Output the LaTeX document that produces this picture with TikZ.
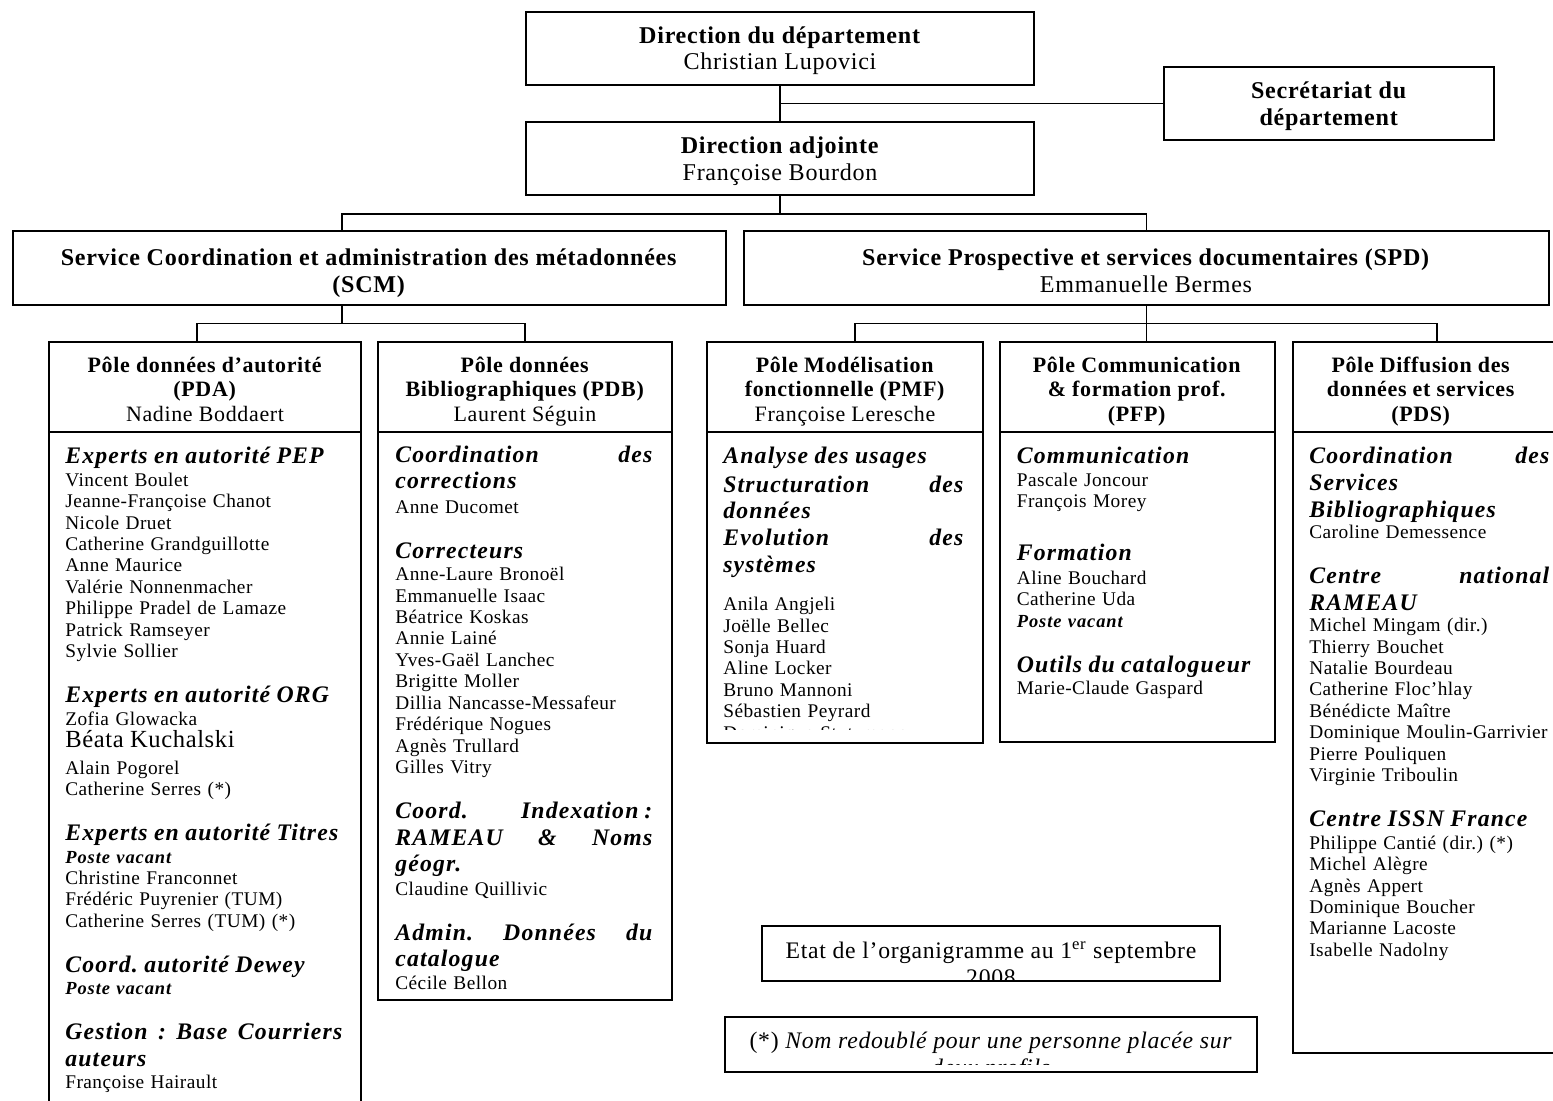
\documentclass[tikz,border=0pt]{standalone}
\usepackage{fontspec}
\setmainfont{Liberation Serif}[LetterSpace=3]
\newfontfamily\hdfont{Liberation Serif}[LetterSpace=5]
\newfontfamily\namefont{Liberation Serif}[LetterSpace=2.4]
\usetikzlibrary{fit}
\newcommand{\hd}[1]{{\hdfont\bfseries\itshape\fontsize{13.5}{12.2}\selectfont\mbox{#1}}}
\newcommand{\hdj}[1]{{\hdfont\bfseries\itshape\fontsize{13.5}{12.2}\selectfont #1}}
\newcommand{\vac}{{\hdfont\bfseries\itshape\fontsize{10.5}{12.2}\selectfont Poste vacant}}
\newcommand{\fst}{\rule{0pt}{14pt}}
\frenchspacing

\begin{document}
\begin{tikzpicture}[x=0.02cm,y=-0.02cm,
  topbox/.style={draw,line width=1.1pt,inner sep=0pt},
  toptext/.style={anchor=north,inner sep=0pt,align=center,font=\fontsize{13.7}{15.3}\selectfont},
  polehead/.style={draw,line width=0.8pt,inner sep=0pt},
  poletext/.style={anchor=north,inner sep=0pt,align=center,font=\fontsize{12.5}{14}\selectfont},
  polebody/.style={draw,line width=1.4pt,inner sep=0pt},
  staff/.style={anchor=north west,inner sep=0pt,align=left,font=\namefont\fontsize{11}{12.2}\selectfont},
  note/.style={draw,line width=1.1pt,inner sep=0pt},
  notetext/.style={anchor=north,inner sep=0pt,align=center,font=\fontsize{13.5}{15.4}\selectfont},
  link/.style={line width=1.1pt}]
\useasboundingbox (0,0) rectangle (1553,1100);

% direction
\node[topbox,fit={(526,12) (1034,85)}] (dir) {};
\node[topbox,fit={(526,122) (1034,195)}] (adj) {};
\node[topbox,fit={(1164,67) (1494,140)}] (sec) {};
\node[toptext] (dirtxt) at (780,18.1) {\fst\textbf{Direction du département}\\Christian Lupovici};
\node[toptext] (adjtxt) at (780,128.4) {\fst\textbf{Direction adjointe}\\Françoise Bourdon};
\node[toptext] (sectxt) at (1329,73.7) {\fst\textbf{Secrétariat du}\\\textbf{département}};

% services
\node[topbox,fit={(13,231) (726,305)}] (scm) {};
\node[topbox,fit={(744,231) (1549,305)}] (spd) {};
\node[toptext] (scmtxt) at (369,240.4) {\fst\textbf{Service Coordination et administration des métadonnées}\\\textbf{(SCM)}};
\node[toptext] (spdtxt) at (1146,240.4) {\fst\textbf{Service Prospective et services documentaires (SPD)}\\Emmanuelle Bermes};

% poles
\node[polehead,fit={(49,342) (361,432)}] (pdah) {};
\node[polehead,fit={(378,342) (672,432)}] (pdbh) {};
\node[polehead,fit={(707,342) (983,432)}] (pmfh) {};
\node[polehead,fit={(1000,342) (1275,432)}] (pfph) {};
\node[polehead,fit={(1293,342) (1566,432)}] (pdsh) {};
\node[poletext] (pdatxt) at (205,347.1) {\fst\textbf{Pôle données d’autorité}\\\textbf{(PDA)}\\Nadine Boddaert};
\node[poletext] (pdbtxt) at (525,347.1) {\fst\textbf{Pôle données}\\\textbf{Bibliographiques (PDB)}\\Laurent Séguin};
\node[poletext] (pmftxt) at (845,347.1) {\fst\textbf{Pôle Modélisation}\\\textbf{fonctionnelle (PMF)}\\Françoise Leresche};
\node[poletext] (pfptxt) at (1137,347.1) {\fst\textbf{Pôle Communication}\\\textbf{\& formation prof.}\\\textbf{(PFP)}};
\node[poletext] (pdstxt) at (1421,347.1) {\fst\textbf{Pôle Diffusion des}\\\textbf{données et services}\\\textbf{(PDS)}};

\node[polebody,fit={(49,432) (361,1130)}] (pdab) {};
\node[polebody,fit={(378,432) (672,1000)}] (pdbb) {};
\node[polebody,fit={(707,432) (983,743)}] (pmfb) {};
\node[polebody,fit={(1000,432) (1275,742)}] (pfpb) {};
\node[polebody,fit={(1293,432) (1566,1053)}] (pdsb) {};

\begin{scope}
\clip (pdab.north west) rectangle (pdab.south east);
\node[staff,text width=5.54cm] (pdal) at (65,438.7) {\fst\hd{Experts en autorité PEP}\\[0.6pt]
Vincent Boulet\\
Jeanne-Françoise Chanot\\
Nicole Druet\\
Catherine Grandguillotte\\
Anne Maurice\\
Valérie Nonnenmacher\\
Philippe Pradel de Lamaze\\
Patrick Ramseyer\\
Sylvie Sollier\\[13.4pt]
\hd{Experts en autorité ORG}\\[0.6pt]
Zofia Glowacka\\[0.7pt]
{\fontsize{14}{12.2}\selectfont Béata Kuchalski}\\[2.8pt]
Alain Pogorel\\
Catherine Serres (*)\\[13.4pt]
\hd{Experts en autorité Titres}\\[0.6pt]
\vac\\
Christine Franconnet\\
Frédéric Puyrenier (TUM)\\
Catherine Serres (TUM) (*)\\[13.4pt]
\hd{Coord. autorité Dewey}\\[0.6pt]
\vac\\[13.4pt]
\hdj{Gestion\hfill:\hfill Base\hfill Courriers}\\[3pt]
\hd{auteurs}\\[0.6pt]
Françoise Hairault};
\end{scope}

\begin{scope}
\clip (pdbb.north west) rectangle (672,990);
\node[staff,text width=5.14cm] (pdbl) at (395,437.1) {\fst\hdj{Coordination\hfill des}\\[3pt]
\hd{corrections}\\[1.7pt]
Anne Ducomet\\[13.4pt]
\hd{Correcteurs}\\[0.6pt]
Anne-Laure Bronoël\\
Emmanuelle Isaac\\
Béatrice Koskas\\
Annie Lainé\\
Yves-Gaël Lanchec\\
Brigitte Moller\\
Dillia Nancasse-Messafeur\\
Frédérique Nogues\\
Agnès Trullard\\
Gilles Vitry\\[13.4pt]
\hdj{Coord.\hfill Indexation\kern.25em:}\\[3pt]
\hdj{RAMEAU\hfill\&\hfill Noms}\\[3pt]
\hd{géogr.}\\[1pt]
Claudine Quillivic\\[13.4pt]
\hdj{Admin.\hfill Données\hfill du}\\[3pt]
\hd{catalogue}\\[0.6pt]
Cécile Bellon};
\end{scope}

\begin{scope}
\clip (pmfb.north west) rectangle (983,729);
\node[staff,text width=4.8cm] (pmfl) at (723,438.7) {\fst\hd{Analyse des usages}\\[3pt]
\hdj{Structuration\hfill des}\\[3pt]
\hd{données}\\[3pt]
\hdj{Evolution\hfill des}\\[3pt]
\hd{systèmes}\\[9.6pt]
Anila Angjeli\\
Joëlle Bellec\\
Sonja Huard\\
Aline Locker\\
Bruno Mannoni\\
Sébastien Peyrard\\
Dominique Stutzmann};
\end{scope}

\begin{scope}
\clip (pfpb.north west) rectangle (pfpb.south east);
\node[staff,text width=4.82cm] (pfpl) at (1016.5,438.7) {\fst\hd{Communication}\\[0.6pt]
Pascale Joncour\\
François Morey\\[18.1pt]
\hd{Formation}\\[1.1pt]
Aline Bouchard\\
Catherine Uda\\
\vac\\[13.4pt]
\hd{Outils du catalogueur}\\[0.6pt]
Marie-Claude Gaspard};
\end{scope}

\begin{scope}
\clip (pdsb.north west) rectangle (pdsb.south east);
\node[staff,text width=4.8cm] (pdsl) at (1309,438.7) {\fst\hdj{Coordination\hfill des}\\[3pt]
\hd{Services}\\[3pt]
\hd{Bibliographiques}\\
Caroline Demessence\\[13.4pt]
\hdj{Centre\hfill national}\\[3pt]
\hd{RAMEAU}\\
Michel Mingam (dir.)\\
Thierry Bouchet\\
Natalie Bourdeau\\
Catherine Floc’hlay\\
Bénédicte Maître\\
\mbox{Dominique Moulin-Garrivier}\\
Pierre Pouliquen\\
Virginie Triboulin\\[13.4pt]
\hd{Centre ISSN France}\\[0.6pt]
Philippe Cantié (dir.) (*)\\
Michel Alègre\\
Agnès Appert\\
Dominique Boucher\\
Marianne Lacoste\\
Isabelle Nadolny};
\end{scope}

% notes
\node[note,fit={(762,926) (1220,981)}] (state) {};
\node[note,fit={(725,1017) (1257,1072)}] (remark) {};
\begin{scope}
\clip (state.north west) rectangle (1220,979.5);
\node[notetext] (statetxt) at (991,933.4) {\fst Etat de l’organigramme au 1\textsuperscript{er} septembre\\2008};
\end{scope}
\begin{scope}
\clip (remark.north west) rectangle (1257,1064);
\node[notetext] (remarktxt) at (991,1023.4) {\fst(*) \textit{Nom redoublé pour une personne placée sur}\\\textit{deux profils}};
\end{scope}

% connectors
\coordinate (xmain) at (780,0);
\coordinate (xscm) at (342,0);
\coordinate (xpda) at (197,0);
\coordinate (xpmf) at (855,0);
\coordinate (xpds) at (1437,0);

\draw[link] (dir.south -| xmain) -- (adj.north -| xmain);
\draw[link] (sec.west) -- (sec.west -| xmain);
\draw[link] (adj.south -| xmain) -- ++(0,18) -| (scm.north -| xscm);
\draw[link] (adj.south -| xmain) -- ++(0,18) -| (spd.north);
\draw[link] (scm.south -| xscm) -- ++(0,17.5) -| (pdah.north -| xpda);
\draw[link] (scm.south -| xscm) -- ++(0,17.5) -| (pdbh.north);
\draw[link] (spd.south) -- ++(0,17.5) -| (pmfh.north -| xpmf);
\draw[link] (spd.south) -- (pfph.north -| spd.south);
\draw[link] (spd.south) -- ++(0,17.5) -| (pdsh.north -| xpds);

\end{tikzpicture}
\end{document}
